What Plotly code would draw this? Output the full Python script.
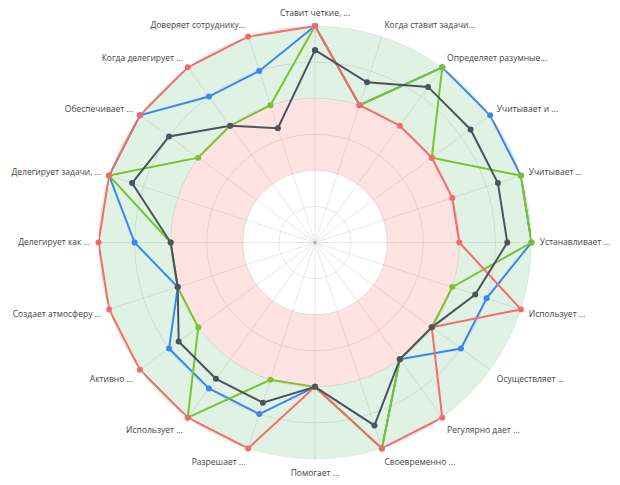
import plotly.graph_objects as go

categories = [
    "Ставит четкие, ...", "Когда ставит задачи...", "Определяет разумные...",
    "Учитывает и ...", "Учитывает ...", "Устанавливает ...", "Использует ...",
    "Осуществляет ...", "Регулярно дает ...", "Своевременно ...", "Помогает ...",
    "Разрешает ...", "Использует ...", "Активно ...", "Создает атмосферу ...",
    "Делегирует как ...", "Делегирует задачи, ...", "Обеспечивает ...",
    "Когда делегирует ...", "Доверяет сотруднику...",
]

series_blue = [6, 4, 6, 6, 6, 6, 5, 5, 4, 6, 4, 5, 5, 5, 4, 5, 6, 6, 5, 5]
series_green = [6, 4, 6, 4, 6, 6, 4, 4, 4, 6, 4, 4, 6, 4, 4, 4, 6, 4, 4, 4]
series_red = [6, 4, 4, 4, 4, 4, 6, 4, 6, 6, 4, 6, 6, 6, 6, 6, 6, 6, 6, 6]
series_dark = [5.33, 4.67, 5.33, 5.33, 5.33, 5.33, 4.67, 4, 4, 5.33, 4, 4.67,
               4.67, 4.67, 4, 4, 5.33, 5, 4, 3.33]

band_bases = [2, 4]
band_colors = ["rgba(255,0,0,0.115)", "rgba(40,167,69,0.15)"]

n = len(categories)
step = 360 / n
angles = [i * step for i in range(n)]

fig = go.Figure()

for base, col in zip(band_bases, band_colors):
    fig.add_trace(go.Barpolar(
        theta=[90, 270], r=[2, 2], base=[base, base], width=[180, 180],
        marker=dict(color=col, line=dict(width=0)),
        hoverinfo="skip", showlegend=False,
    ))

line_specs = [
    (series_blue, "#3a86f0"),
    (series_green, "#79c42d"),
    (series_red, "#f76b6a"),
    (series_dark, "#4b545e"),
]
for vals, col in line_specs:
    fig.add_trace(go.Scatterpolar(
        r=vals + [vals[0]], theta=angles + [angles[0]],
        mode="lines+markers",
        line=dict(color=col, width=2),
        marker=dict(color=col, size=6),
        showlegend=False,
    ))

fig.update_layout(
    width=620, height=485,
    margin=dict(l=90, r=80, t=26, b=26),
    paper_bgcolor="white",
    font=dict(family="Open Sans", size=8.5, color="#444444"),
    polar=dict(
        bgcolor="white",
        radialaxis=dict(range=[0, 6], dtick=1, showticklabels=False, ticks="",
                        showline=False, gridcolor="rgba(0,0,0,0.09)", gridwidth=1),
        angularaxis=dict(rotation=90, direction="clockwise", tickmode="array",
                         tickvals=angles, ticktext=categories,
                         ticks="outside", ticklen=6, tickcolor="rgba(0,0,0,0)",
                         showline=True, linecolor="rgba(0,0,0,0.06)",
                         gridcolor="rgba(0,0,0,0.09)", gridwidth=1,
                         tickfont=dict(size=8.5, color="#444444")),
    ),
)

fig.write_html("out.html")
